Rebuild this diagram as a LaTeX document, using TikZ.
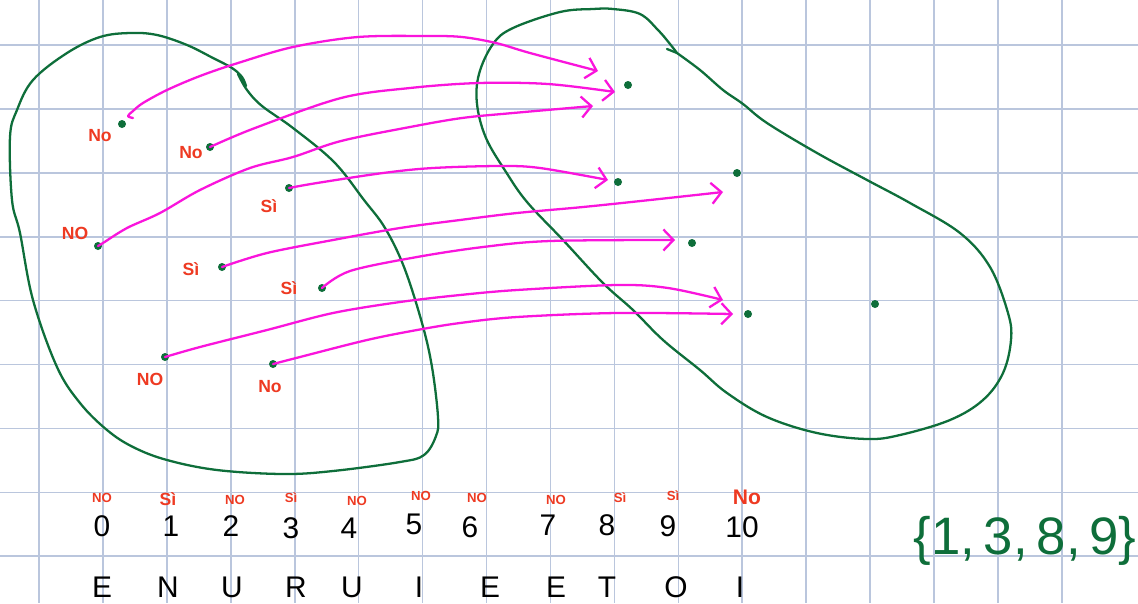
\documentclass[tikz,border=0pt]{standalone}
\usepackage{fontspec}
\setmainfont{Liberation Sans}
\usetikzlibrary{arrows.meta}
\definecolor{gridc}{HTML}{BAC6DD}
\definecolor{pen}{HTML}{0E6E3A}
\definecolor{mag}{HTML}{FA14DC}
\definecolor{lab}{HTML}{EE3A22}
\begin{document}
\begin{tikzpicture}[x=0.02cm,y=-0.02cm,
  gridline/.style={gridc, line width=0.9pt},
  blob/.style={pen, line width=1.3pt, line cap=round, line join=round},
  dot/.style={circle, fill=pen, inner sep=0pt, minimum size=0.16cm},
  arr/.style={mag, line width=1.3pt, line cap=round, line join=round, -{Straight Barb[length=0.2cm, width=0.42cm]}},
  lbl/.style={text=lab, inner sep=0pt, font=\fontsize{10}{12}\selectfont\bfseries},
  sml/.style={text=lab, inner sep=0pt, font=\fontsize{7.5}{8}\selectfont\bfseries},
  num/.style={text=black, inner sep=0pt, font=\fontsize{17}{20}\selectfont},
  set/.style={text=pen, inner sep=0pt, font=\fontsize{30}{34}\selectfont}]
\useasboundingbox (0,0) rectangle (1138,603);
\fill[white] (0,0) rectangle (1138,603);
% grid
\foreach \k in {0,...,16} \draw[gridline] ({39+63.93*\k},0) -- ({39+63.93*\k},603);
\foreach \k in {0,...,8} \draw[gridline] (0,{45+63.9*\k}) -- (1138,{45+63.9*\k});
% left blob
\draw[blob] plot[smooth, tension=0.6] coordinates {(238,74) (247,90) (262,106) (293,128) (334,162) (364,200) (385,228) (404,267) (422,323) (432,367) (438,417) (436,436) (424,455) (400,462) (333,471) (283,474) (217,470) (167,460) (133,447) (107,430) (80,403) (57,367) (33,300) (20,233) (12,200) (10,137) (17,110) (33,80) (67,53) (100,37) (130,33) (157,35) (187,45) (213,58) (232,68) (242,77) (246,86)};
% right blob
\draw[blob] plot[smooth, tension=0.6] coordinates {(677,53) (700,70) (723,90) (743,104) (767,123) (817,153) (867,180) (910,203) (960,233) (990,267) (1008,313) (1011,340) (1003,373) (983,400) (950,420) (900,435) (867,439) (817,433) (767,417) (727,393) (700,370) (663,340) (633,310) (603,283) (563,240) (527,202) (506,172) (486,138) (477,104) (479,74) (493,44) (513,28) (560,12) (593,9) (613,9) (640,14) (658,30) (670,44) (677,53)};
\draw[blob] (677,53) -- (667,49);
% domain points
\node[dot] (L1) at (122,124) {};
\node[dot] (L2) at (210,147) {};
\node[dot] (L3) at (289,188) {};
\node[dot] (L4) at (98,246) {};
\node[dot] (L5) at (222,267) {};
\node[dot] (L6) at (322,288) {};
\node[dot] (L7) at (165,357) {};
\node[dot] (L8) at (273,364) {};
% codomain points
\node[dot] (R1) at (628,85) {};
\node[dot] (R2) at (618,182) {};
\node[dot] (R3) at (737,173) {};
\node[dot] (R4) at (692,243) {};
\node[dot] (R5) at (748,314) {};
\node[dot] (R6) at (875,304) {};
% labels of domain points
\node[lbl] (t1) at (100,136) {No};
\node[lbl] (t2) at (191,153) {No};
\node[lbl] (t3) at (269,206) {Sì};
\node[lbl] (t4) at (75,233) {NO};
\node[lbl] (t5) at (191,269) {Sì};
\node[lbl] (t6) at (289,288) {Sì};
\node[lbl] (t7) at (150,379) {NO};
\node[lbl] (t8) at (270,387) {No};
% arrow ends
\coordinate (s1) at (133,118);
\coordinate (e1) at (598,71);
\coordinate (e2) at (615,92);
\coordinate (e3) at (593,106);
\coordinate (e4) at (608,180);
\coordinate (e5) at (723,192);
\coordinate (e6) at (675,240);
\coordinate (e7) at (723,300);
\coordinate (e8) at (733,314);
% arrows
\draw[arr] plot[smooth, tension=0.55] coordinates {(s1) (128,116) (133,111) (143,103) (167,90) (200,76) (238,63) (293,47) (358,37) (427,36) (462,37) (496,43) (530,53) (e1)};
\draw[arr] plot[smooth, tension=0.55] coordinates {(L2) (255,128) (341,98) (410,88) (479,83) (548,84) (e2)};
\draw[arr] plot[smooth, tension=0.55] coordinates {(L4) (103,243) (127,228) (160,213) (200,190) (250,168) (293,157) (341,141) (410,127) (462,118) (513,113) (e3)};
\draw[arr] plot[smooth, tension=0.55] coordinates {(L3) (317,183) (383,173) (433,168) (500,166) (540,168) (e4)};
\draw[arr] plot[smooth, tension=0.55] coordinates {(L5) (267,253) (333,240) (400,228) (460,220) (517,213) (583,207) (650,200) (e5)};
\draw[arr] plot[smooth, tension=0.55] coordinates {(L6) (350,271) (417,257) (483,247) (550,241) (e6)};
\draw[arr] plot[smooth, tension=0.55] coordinates {(L7) (200,347) (267,330) (333,313) (400,302) (460,295) (517,290) (617,285) (668,288) (e7)};
\draw[arr] plot[smooth, tension=0.55] coordinates {(L8) (300,357) (367,340) (417,330) (460,323) (517,317) (617,313) (e8)};
% bottom row: answers
\node[sml] (b0) at (102,498) {NO};
\node[lbl] (b1) at (168,499) {Sì};
\node[sml] (b2) at (235,500) {NO};
\node[sml] (b3) at (291,498) {Sì};
\node[sml] (b4) at (357,501) {NO};
\node[sml] (b5) at (421,496) {NO};
\node[sml] (b6) at (477,498) {NO};
\node[sml] (b7) at (556,500) {NO};
\node[sml] (b8) at (620,498) {Sì};
\node[sml] (b9) at (673,496) {Sì};
\node[text=lab, inner sep=0pt, font=\fontsize{12}{14}\selectfont\bfseries] (b10) at (747,497) {No};
% numbers
\node[num] (n0) at (102,526) {0};
\node[num] (n1) at (171,526) {1};
\node[num] (n2) at (231,526) {2};
\node[num] (n3) at (291,528) {3};
\node[num] (n4) at (349,528) {4};
\node[num] (n5) at (414,524) {5};
\node[num] (n6) at (470,527) {6};
\node[num] (n7) at (548,525) {7};
\node[num] (n8) at (607,525) {8};
\node[num] (n9) at (668,526) {9};
\node[num] (n10) at (742,527) {10};
% letters
\node[num] (c0) at (102,587) {E};
\node[num] (c1) at (168,587) {N};
\node[num] (c2) at (232,587) {U};
\node[num] (c3) at (296,587) {R};
\node[num] (c4) at (352,587) {U};
\node[num] (c5) at (419,587) {I};
\node[num] (c6) at (490,587) {E};
\node[num] (c7) at (556,587) {E};
\node[num] (c8) at (607,587) {T};
\node[num] (c9) at (676,587) {O};
\node[num] (c10) at (740,587) {I};
% set
\node[set] (S) at (1025,541) {\{1,\,3,\,8,\,9\}};
\end{tikzpicture}
\end{document}
